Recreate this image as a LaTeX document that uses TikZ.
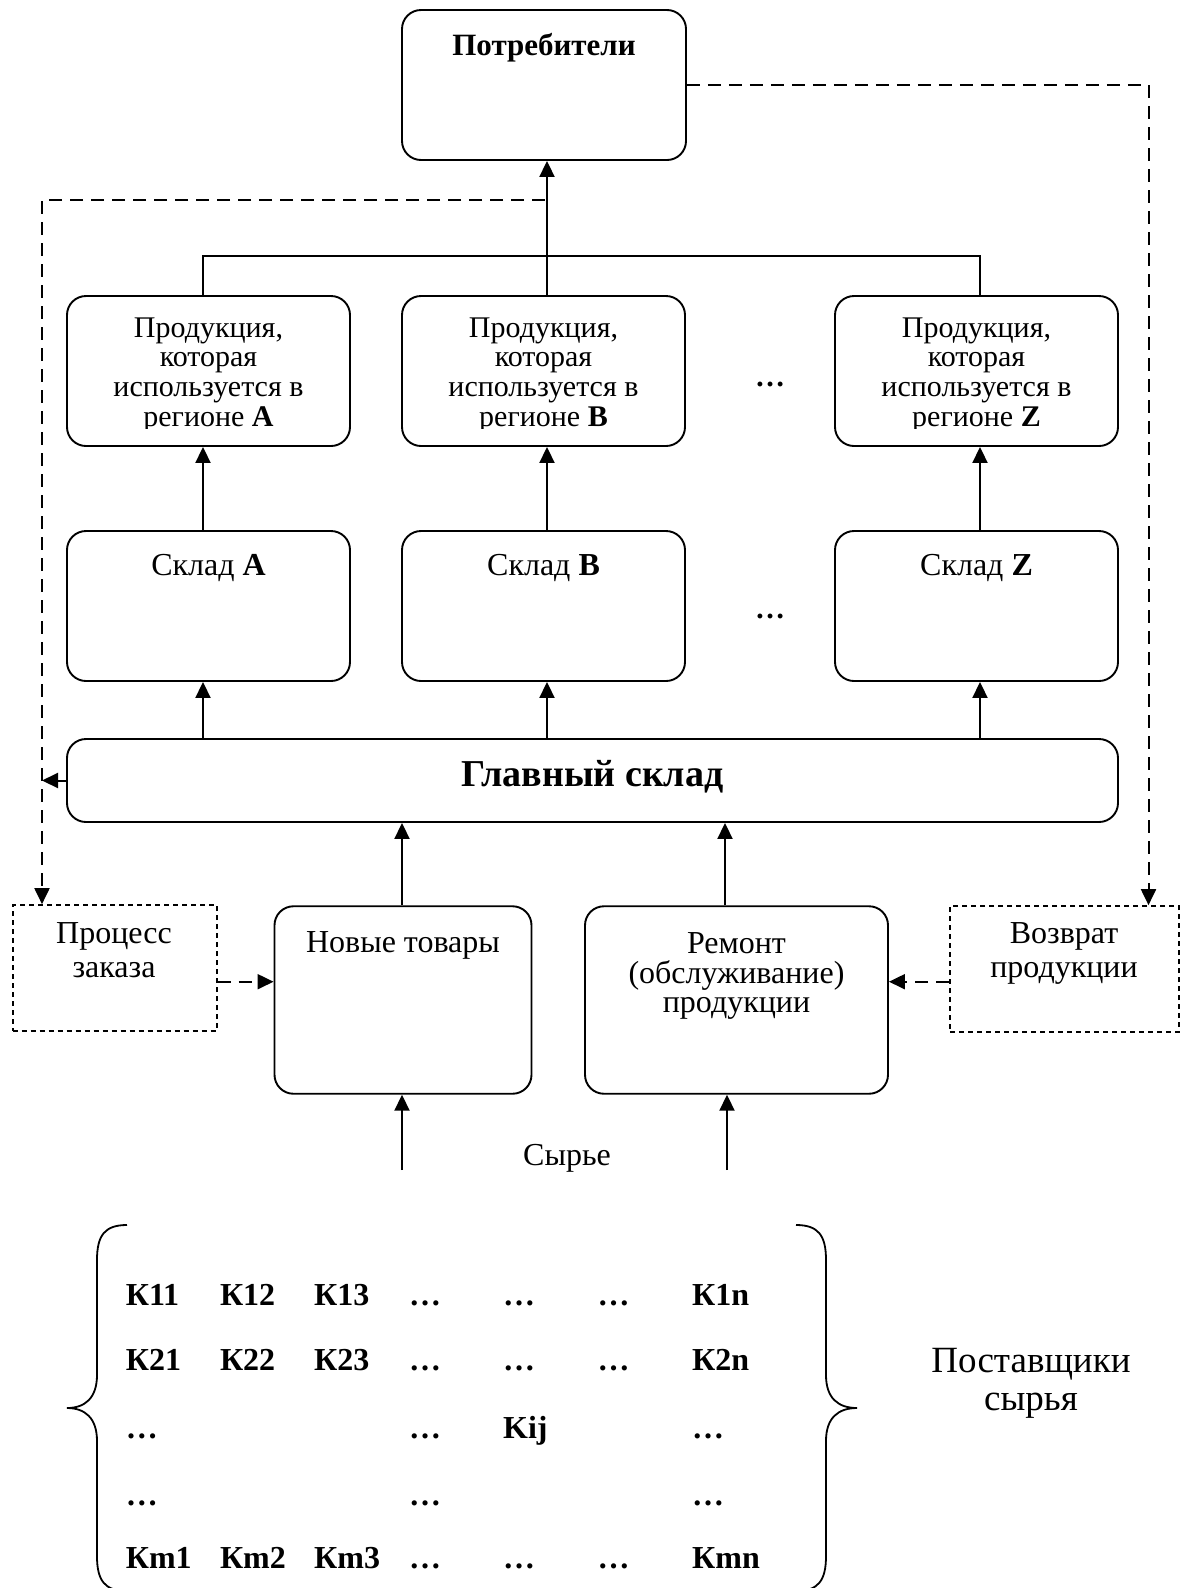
\documentclass[tikz,border=0pt]{standalone}
\usepackage{fontspec}
\setmainfont{Liberation Serif}
\usetikzlibrary{arrows.meta}

\begin{document}
\begin{tikzpicture}[x=1pt,y=-1pt,
  box/.style={draw, line width=1.9pt, rounded corners=19pt, inner sep=0pt},
  dbox/.style={draw, line width=1.7pt, dash pattern=on 5pt off 4pt, inner sep=0pt},
  ln/.style={line width=2pt},
  arr/.style={line width=2pt, -{Triangle[length=16pt,width=15pt]}},
  darr/.style={line width=2pt, dash pattern=on 13pt off 8pt, -{Triangle[length=16pt,width=15pt]}},
  txt/.style={anchor=base, inner sep=0pt, font=\fontsize{32}{34}\selectfont},
  ptxt/.style={anchor=base, inner sep=0pt, font=\fontsize{30}{32}\selectfont},
  btxt/.style={anchor=base, inner sep=0pt, font=\fontsize{31}{33}\selectfont\bfseries},
  htxt/.style={anchor=base, inner sep=0pt, font=\fontsize{38}{40}\selectfont\bfseries},
  stxt/.style={anchor=base, inner sep=0pt, font=\fontsize{37}{39}\selectfont},
  mtx/.style={anchor=base west, inner sep=0pt, font=\fontsize{32}{34}\selectfont\bfseries},
]
\useasboundingbox (0,0) rectangle (1190,1588);

% ---- boxes ----
\node[box, minimum width=284pt, minimum height=150pt] (cons) at (544,85) {};
\node[box, minimum width=283pt, minimum height=150pt] (prodA) at (208.5,371) {};
\node[box, minimum width=283pt, minimum height=150pt] (prodB) at (543.5,371) {};
\node[box, minimum width=283pt, minimum height=150pt] (prodZ) at (976.5,371) {};
\node[box, minimum width=283pt, minimum height=150pt] (skA) at (208.5,606) {};
\node[box, minimum width=283pt, minimum height=150pt] (skB) at (543.5,606) {};
\node[box, minimum width=283pt, minimum height=150pt] (skZ) at (976.5,606) {};
\node[box, minimum width=1051pt, minimum height=83pt] (main) at (592.5,780.5) {};
\node[dbox, minimum width=204pt, minimum height=126pt] (order) at (114.7,968) {};
\node[box, minimum width=257pt, minimum height=187.5pt] (new) at (403,1000) {};
\node[box, minimum width=303pt, minimum height=187.5pt] (repair) at (736.5,1000) {};
\node[dbox, minimum width=229pt, minimum height=126pt] (ret) at (1064.5,969) {};

% ---- box texts ----
\node[btxt] (consT) at (544,55) {Потребители};

\begin{scope}
  \clip (50,290) rectangle (1130,428);
  \foreach \c/\x/\r in {A/208.5/A, B/543.5/B, Z/976.5/Z}{
    \node[ptxt] (p\c1) at (\x,337) {Продукция,};
    \node[ptxt] (p\c2) at (\x,366.5) {которая};
    \node[ptxt] (p\c3) at (\x,396.5) {используется в};
    \node[ptxt] (p\c4) at (\x,426.5) {регионе \textbf{\r}};
  }
\end{scope}

\node[txt] (skAT) at (208.5,575) {Склад \textbf{A}};
\node[txt] (skBT) at (543.5,575) {Склад \textbf{B}};
\node[txt] (skZT) at (976.5,575) {Склад \textbf{Z}};

\node[txt, font=\fontsize{30}{32}\selectfont\bfseries] (dots1) at (770,386) {…};
\node[txt, font=\fontsize{30}{32}\selectfont\bfseries] (dots2) at (770,618) {…};

\node[htxt] (mainT) at (592.5,786) {Главный склад};

\node[txt] (ordT1) at (114,943) {Процесс};
\node[txt] (ordT2) at (114,977) {заказа};
\node[txt] (newT) at (403,952) {Новые товары};
\node[txt] (repT1) at (736.5,953) {Ремонт};
\node[txt] (repT2) at (736.5,983) {(обслуживание)};
\node[txt] (repT3) at (736.5,1012) {продукции};
\node[txt] (retT1) at (1064,943) {Возврат};
\node[txt] (retT2) at (1064,977) {продукции};

\node[txt] (raw) at (567,1165) {Сырье};
\node[stxt] (supp1) at (1031,1372) {Поставщики};
\node[stxt] (supp2) at (1031,1410) {сырья};

% ---- helper coordinates ----
\coordinate (colA) at (203,0);
\coordinate (colB) at (547,0);
\coordinate (colZ) at (980,0);
\coordinate (joint) at (0,256);
\coordinate (ordStart) at (545,200);
\coordinate (ordTurn) at (42,200);
\coordinate (retTurn) at (1148.5,86);
\coordinate (side) at (0,981.7);
\coordinate (raw1) at (402,1170);
\coordinate (raw2) at (727,1170);
\coordinate (upL) at (402,0);
\coordinate (upR) at (725,0);

% ---- connectors ----
\draw[ln] (prodA.north -| colA) -- (colA |- joint) -- (colZ |- joint) -- (prodZ.north -| colZ);
\draw[arr] (prodB.north -| colB) -- (cons.south -| colB);

\foreach \c/\k in {A/colA, B/colB, Z/colZ}{
  \draw[arr] (sk\c.north -| \k) -- (prod\c.south -| \k);
  \draw[arr] (main.north -| \k) -- (sk\c.south -| \k);
}

\draw[arr] (new.north -| upL) -- (main.south -| upL);
\draw[arr] (repair.north -| upR) -- (main.south -| upR);
\draw[arr] (raw1) -- (new.south -| raw1);
\draw[arr] (raw2) -- (repair.south -| raw2);

\draw[darr] (ordStart) -- (ordTurn) -- (order.north -| ordTurn);
\draw[arr] (main.west) -- (main.west -| ordTurn);
\draw[darr] (cons.east) -- (cons.east -| retTurn) -- (ret.north -| retTurn);
\draw[darr] (order.east |- side) -- (new.west |- side);
\draw[darr] (ret.west |- side) -- (repair.east |- side);

% ---- supplier matrix ----
\draw[line width=1.8pt]
  (127,1225) .. controls (105,1225) and (97,1235) .. (97,1260) -- (97,1375)
  .. controls (97,1398) and (85,1408) .. (67,1408)
  .. controls (85,1408) and (97,1418) .. (97,1441) -- (97,1556)
  .. controls (97,1581) and (105,1591) .. (127,1591);
\draw[line width=1.8pt]
  (796,1225) .. controls (818,1225) and (826,1235) .. (826,1260) -- (826,1375)
  .. controls (826,1398) and (838,1408) .. (857,1408)
  .. controls (838,1408) and (826,1418) .. (826,1441) -- (826,1556)
  .. controls (826,1581) and (818,1591) .. (796,1591);

\foreach \c/\x in {1/125.6, 2/219.8, 3/314, 4/409, 5/503, 6/597.5, 7/692}{
  \coordinate (col\c) at (\x,0);
}
\foreach \r/\y in {1/1305, 2/1370, 3/1438, 4/1505, 5/1568}{
  \coordinate (row\r) at (0,\y);
}
\foreach \c/\t in {1/К11, 2/К12, 3/К13, 4/…, 5/…, 6/…, 7/К1n}{
  \node[mtx] (m-1-\c) at (col\c |- row1) {\t};
}
\foreach \c/\t in {1/К21, 2/К22, 3/К23, 4/…, 5/…, 6/…, 7/К2n}{
  \node[mtx] (m-2-\c) at (col\c |- row2) {\t};
}
\foreach \c/\t in {1/…, 4/…, 5/Kij, 7/…}{
  \node[mtx] (m-3-\c) at (col\c |- row3) {\t};
}
\foreach \c/\t in {1/…, 4/…, 7/…}{
  \node[mtx] (m-4-\c) at (col\c |- row4) {\t};
}
\foreach \c/\t in {1/Кm1, 2/Кm2, 3/Кm3, 4/…, 5/…, 6/…, 7/Кmn}{
  \node[mtx] (m-5-\c) at (col\c |- row5) {\t};
}
\end{tikzpicture}
\end{document}
